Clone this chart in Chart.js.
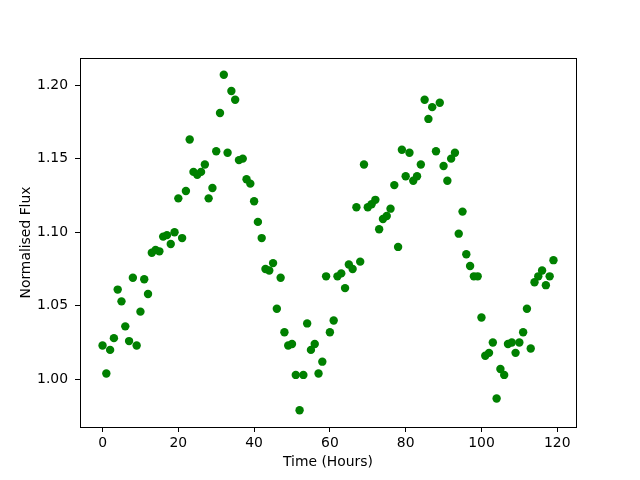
<!DOCTYPE html>
<html>
<head>
<meta charset="utf-8">
<script src="https://cdn.jsdelivr.net/npm/chart.js@4/dist/chart.umd.min.js"></script>
<style>
  html, body { margin: 0; padding: 0; background: #fff; }
  #wrap { width: 640px; height: 480px; }
</style>
</head>
<body>
<div id="wrap"><canvas id="fluxChart" width="640" height="480"></canvas></div>
<script>
// time axis (hours) and normalised flux
var hours = [
  0, 1, 2, 3, 4, 5, 6, 7, 8, 9, 10, 11, 12, 13, 14, 15, 16, 17, 18, 19,
  20, 21, 22, 23, 24, 25, 26, 27, 28, 29, 30, 31, 32, 33, 34, 35, 36, 37, 38, 39,
  40, 41, 42, 43, 44, 45, 46, 47, 48, 49, 50, 51, 52, 53, 54, 55, 56, 57, 58, 59,
  60, 61, 62, 63, 64, 65, 66, 67, 68, 69, 70, 71, 72, 73, 74, 75, 76, 77, 78, 79,
  80, 81, 82, 83, 84, 85, 86, 87, 88, 89, 90, 91, 92, 93, 94, 95, 96, 97, 98, 99,
  100, 101, 102, 103, 104, 105, 106, 107, 108, 109, 110, 111, 112, 113, 114, 115, 116, 117, 118, 119
];
var flux = [
  1.023, 1.004, 1.020, 1.028, 1.061, 1.053, 1.036, 1.026, 1.069, 1.023,
  1.046, 1.068, 1.058, 1.086, 1.088, 1.087, 1.097, 1.098, 1.092, 1.100,
  1.123, 1.096, 1.128, 1.163, 1.141, 1.139, 1.141, 1.146, 1.123, 1.130,
  1.155, 1.181, 1.207, 1.154, 1.196, 1.190, 1.149, 1.150, 1.136, 1.133,
  1.121, 1.107, 1.096, 1.075, 1.074, 1.079, 1.048, 1.069, 1.032, 1.023,
  1.024, 1.003, 0.979, 1.003, 1.038, 1.020, 1.024, 1.004, 1.012, 1.070,
  1.032, 1.040, 1.070, 1.072, 1.062, 1.078, 1.075, 1.117, 1.080, 1.146,
  1.117, 1.119, 1.122, 1.102, 1.109, 1.111, 1.116, 1.132, 1.090, 1.156,
  1.138, 1.154, 1.135, 1.138, 1.146, 1.190, 1.177, 1.185, 1.155, 1.188,
  1.145, 1.135, 1.150, 1.154, 1.099, 1.114, 1.085, 1.077, 1.070, 1.070,
  1.042, 1.016, 1.018, 1.025, 0.987, 1.007, 1.003, 1.024, 1.025, 1.018,
  1.025, 1.032, 1.048, 1.021, 1.066, 1.070, 1.074, 1.064, 1.070, 1.081
];
var xTicks = [0, 20, 40, 60, 80, 100, 120];
var yTicks = [1.00, 1.05, 1.10, 1.15, 1.20];

var points = hours.map(function (h, i) { return { x: h, y: flux[i] }; });

var FONT = { family: "'DejaVu Sans', sans-serif", size: 13.9 };

// matplotlib style closed frame round the plot area
var framePlugin = {
  id: "frame",
  afterDraw: function (chart) {
    var a = chart.chartArea, c = chart.ctx;
    c.save();
    c.strokeStyle = "#000";
    c.lineWidth = 1;
    c.strokeRect(Math.round(a.left) + 0.5, Math.round(a.top) + 0.5,
      Math.round(a.right - a.left), Math.round(a.bottom - a.top));
    c.restore();
  }
};

Chart.defaults.color = "#000";

new Chart(document.getElementById("fluxChart"), {
  type: "scatter",
  data: {
    datasets: [{
      data: points,
      backgroundColor: "#008000",
      borderWidth: 0,
      pointRadius: 4.2,
      pointHoverRadius: 4.2
    }]
  },
  options: {
    responsive: false,
    animation: false,
    events: [],
    layout: { padding: { top: 58, right: 64, bottom: 0, left: 0 } },
    plugins: { legend: { display: false }, tooltip: { enabled: false } },
    scales: {
      x: {
        type: "linear",
        min: -5.95,
        max: 124.95,
        afterBuildTicks: function (s) { s.ticks = xTicks.map(function (v) { return { value: v }; }); },
        afterFit: function (s) { s.height = 53; },
        grid: { drawOnChartArea: false, drawTicks: true, tickLength: 5, color: "#000", tickWidth: 1 },
        border: { display: false },
        ticks: { font: FONT, color: "#000", padding: 3, maxRotation: 0 },
        title: { display: true, text: "Time (Hours)", font: FONT, color: "#000", padding: { top: 4, bottom: 9 } }
      },
      y: {
        type: "linear",
        min: 0.9676,
        max: 1.2184,
        afterBuildTicks: function (s) { s.ticks = yTicks.map(function (v) { return { value: v }; }); },
        afterFit: function (s) { s.width = 80; },
        grid: { drawOnChartArea: false, drawTicks: true, tickLength: 5, color: "#000", tickWidth: 1 },
        border: { display: false },
        ticks: { font: FONT, color: "#000", padding: 7, callback: function (v) { return v.toFixed(2); } },
        title: { display: true, text: "Normalised Flux", font: FONT, color: "#000", padding: { top: 18, bottom: 4 } }
      }
    }
  },
  plugins: [framePlugin]
});
</script>
</body>
</html>
